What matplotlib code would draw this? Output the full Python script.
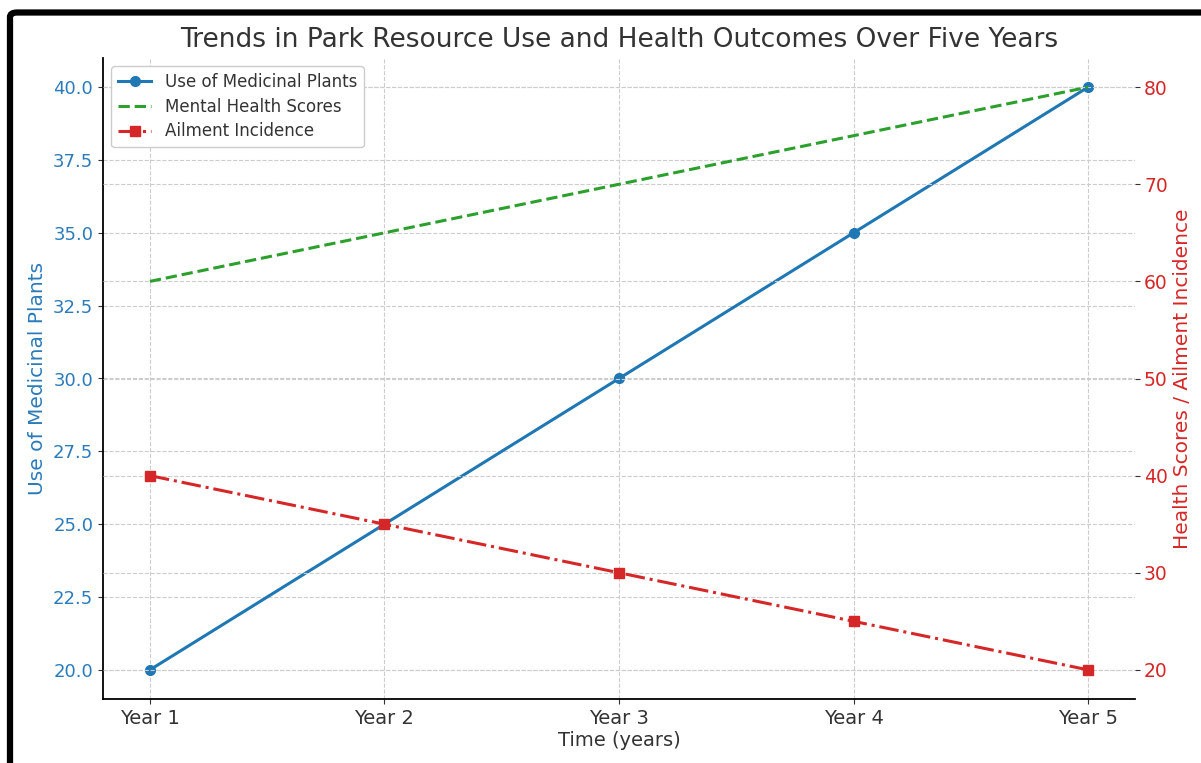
import matplotlib
matplotlib.use("Agg")
import matplotlib.pyplot as plt
from matplotlib.patches import FancyBboxPatch

years = ["Year 1", "Year 2", "Year 3", "Year 4", "Year 5"]
medicinal_plants = [20, 25, 30, 35, 40]
mental_health = [60, 65, 70, 75, 80]
ailment_incidence = [40, 35, 30, 25, 20]

green = "#2ca02c"
red = "#d62728"
line_blue = "#1f77b4"
label_blue = "#2b7bba"
text_dark = "#333333"

fig = plt.figure(figsize=(12.01, 7.63), dpi=100)
ax1 = fig.add_axes([103 / 1201, 1 - 699 / 763, (1135 - 103) / 1201, (699 - 58) / 763])
ax2 = ax1.twinx()

x = range(len(years))
l1, = ax1.plot(x, medicinal_plants, color=line_blue, marker="o", linewidth=2.2,
               markersize=7, label="Use of Medicinal Plants")
l2, = ax2.plot(x, mental_health, color=green, linestyle="--", linewidth=2.2,
               label="Mental Health Scores")
l3, = ax2.plot(x, ailment_incidence, color=red, linestyle="-.", marker="s",
               linewidth=2.2, markersize=7, label="Ailment Incidence")

ax1.set_xticks(list(x))
ax1.set_xticklabels(years)
ax1.set_xlim(-0.2, 4.2)
ax1.set_ylim(19, 41)
ax2.set_ylim(17, 83)
ax1.set_yticks([20, 22.5, 25, 27.5, 30, 32.5, 35, 37.5, 40])
ax1.set_yticklabels(["20.0", "22.5", "25.0", "27.5", "30.0", "32.5", "35.0", "37.5", "40.0"])
ax2.set_yticks([20, 30, 40, 50, 60, 70, 80])

for a in (ax1, ax2):
    a.grid(True, linestyle="--", color="#cccccc", linewidth=0.8)
    a.spines["top"].set_visible(False)
    a.spines["right"].set_visible(False)
ax2.spines["left"].set_visible(False)
ax2.spines["bottom"].set_visible(False)
ax1.spines["left"].set_linewidth(1.3)
ax1.spines["bottom"].set_linewidth(1.3)
ax1.set_axisbelow(True)

ax1.tick_params(axis="y", labelcolor=label_blue, labelsize=13, color=text_dark)
ax1.tick_params(axis="x", labelcolor=text_dark, labelsize=14, color=text_dark)
ax2.tick_params(axis="y", labelcolor=red, labelsize=13.5, color=text_dark, pad=3)

ax1.set_xlabel("Time (years)", fontsize=14, color=text_dark, labelpad=2)
ax1.set_ylabel("Use of Medicinal Plants", fontsize=14.5, color=label_blue)
ax2.set_ylabel("Health Scores / Ailment Incidence", fontsize=14.5, color=red)
ax1.set_title("Trends in Park Resource Use and Health Outcomes Over Five Years",
              fontsize=19, color=text_dark, pad=8)

# legend lives on the top axes so nothing from the twin axes covers it
leg = ax2.legend(handles=[l1, l2, l3], loc="upper left", fontsize=12,
                 frameon=True, framealpha=1, edgecolor="#cccccc",
                 labelspacing=0.4, bbox_to_anchor=(0.0, 1.0),
                 labelcolor=text_dark)
leg.set_zorder(10)

# outer rounded frame around the figure
frame = FancyBboxPatch((10 / 1201, -0.05), 1.2, 1 - 12.5 / 763 + 0.05,
                       boxstyle="round,pad=0,rounding_size=0.006",
                       transform=fig.transFigure, facecolor="none",
                       edgecolor="black", linewidth=4.5, clip_on=False)
fig.patches.append(frame)

fig.savefig("out.png", dpi=100)
